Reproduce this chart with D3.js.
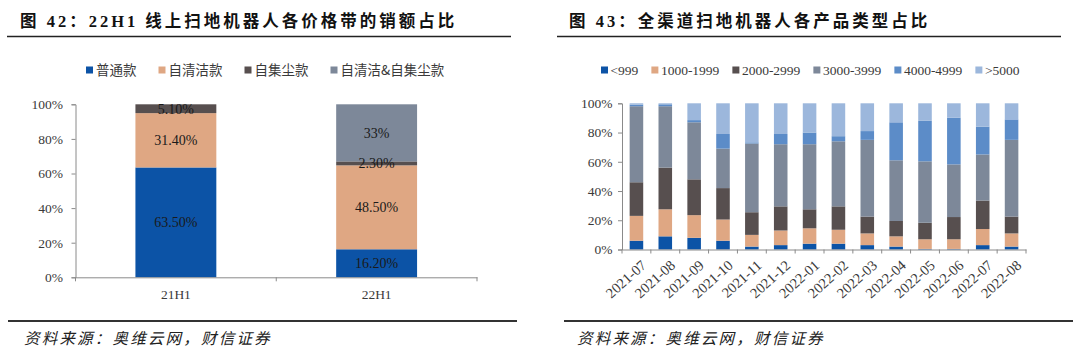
<!DOCTYPE html>
<html><head><meta charset="utf-8">
<script src="https://cdn.jsdelivr.net/npm/d3@7/dist/d3.min.js"></script>
<style>body{margin:0;background:#fff} svg{display:block}</style>
</head><body><svg id="c" width="1080" height="358"></svg>
<script>
// ---------- data ----------
const leftTitle = "图 42：22H1 线上扫地机器人各价格带的销额占比";
const rightTitle = "图 43：全渠道扫地机器人各产品类型占比";
const sourceText = "资料来源：奥维云网，财信证券";

const leftCategories = ["21H1", "22H1"];
const leftSeriesNames = ["普通款", "自清洁款", "自集尘款", "自清洁&自集尘款"];
const leftPutong = [63.5, 16.2];
const leftZiqingjie = [31.4, 48.5];
const leftZijichen = [5.1, 2.3];
const leftBoth = [0, 33];

const yTickValues = [0, 20, 40, 60, 80, 100];

const rightCategories = ["2021-07","2021-08","2021-09","2021-10","2021-11","2021-12","2022-01","2022-02","2022-03","2022-04","2022-05","2022-06","2022-07","2022-08"];
const rightSeriesNames = ["<999", "1000-1999", "2000-2999", "3000-3999", "4000-4999", ">5000"];
const rUnder999   = [6, 9, 8, 6, 2, 3, 4, 4, 3, 2, 0.4, 0.4, 3, 2];
const r1000_1999  = [17, 18.5, 15.5, 14.5, 8, 10, 10.5, 9.5, 8, 7, 6.6, 6.6, 11, 9];
const r2000_2999  = [23, 28.5, 24.5, 21.5, 15.5, 16.5, 13, 16, 11.5, 10.5, 11.3, 15.2, 19.5, 11.5];
const r3000_3999  = [52, 42, 39, 27, 47, 42.5, 44.5, 44.5, 52.5, 41.5, 42, 36, 31.5, 52.5];
const r4000_4999  = [1, 1.3, 1.5, 10, 0.8, 7, 8, 3.5, 6, 26, 27.7, 32, 19, 14];
const rOver5000   = [1, 0.7, 11.5, 21, 26.7, 21, 20, 22.5, 19, 13, 12, 9.8, 16, 11];

// ---------- styles ----------
const leftColors = ["#0c53a6", "#dfa783", "#574f4f", "#7d8899"];
const rightColors = ["#0c53a6", "#dfa783", "#574f4f", "#7d8899", "#5c8cc8", "#9cb7dc"];
const serif = "'Liberation Serif','Times New Roman',serif";
const cjk = "'Liberation Serif','Noto Sans CJK SC',sans-serif";
const axisColor = "#8a8a8a";
const textColor = "#3a3a3a";

const svg = d3.select("#c");

function buildRows(cats, names, arrays) {
  return cats.map((c, i) => {
    const row = {cat: c};
    names.forEach((n, j) => row[n] = arrays[j][i]);
    return row;
  });
}

// ---------- titles, rules, footers ----------
function header(x, text, lineX1, lineX2) {
  svg.append("text").attr("x", x).attr("y", 27)
    .attr("font-family", cjk).attr("font-weight", "bold").attr("font-size", 16.5)
    .attr("letter-spacing", 3).attr("fill", "#111").text(text);
  svg.append("line").attr("x1", lineX1).attr("x2", lineX2).attr("y1", 36.5).attr("y2", 36.5)
    .attr("stroke", "#222").attr("stroke-width", 1.6);
}
function footer(x, lineX1, lineX2) {
  svg.append("line").attr("x1", lineX1).attr("x2", lineX2).attr("y1", 321).attr("y2", 321)
    .attr("stroke", "#333").attr("stroke-width", 2);
  svg.append("text").attr("x", x).attr("y", 344)
    .attr("font-family", "'Noto Sans CJK SC',sans-serif").attr("font-style", "italic")
    .attr("font-size", 15.5).attr("letter-spacing", 2.2).attr("fill", "#222").text(sourceText);
}
header(20, leftTitle, 7, 511);
header(569, rightTitle, 557, 1061);
footer(24, 8, 517);
footer(577, 564, 1073);

// ---------- legend ----------
function legend(names, colors, startX, gap, textGap, fontFamily, fontSize) {
  let x = startX;
  names.forEach((n, i) => {
    svg.append("rect").attr("x", x).attr("y", 66.5).attr("width", 7).attr("height", 7).attr("fill", colors[i]);
    const t = svg.append("text").attr("x", x + 7 + textGap).attr("y", 75)
      .attr("font-family", fontFamily).attr("font-size", fontSize).attr("fill", textColor).text(n);
    x += 7 + textGap + t.node().getComputedTextLength() + gap;
  });
}
legend(leftSeriesNames, leftColors, 86, 22, 3, "'Noto Sans CJK SC',sans-serif", 13.5);
legend(rightSeriesNames, rightColors, 601, 13, 2.5, serif, 13.5);

// ---------- generic stacked chart ----------
function stackedChart(opts) {
  const {rows, names, colors, x0, x1, yTop, yBottom, barFrac, labels, tickPad, xPad} = opts;
  const g = svg.append("g");
  const x = d3.scaleBand().domain(rows.map(d => d.cat)).range([x0, x1]).padding(0);
  const y = d3.scaleLinear().domain([0, 100]).range([yBottom, yTop]);
  const bw = x.bandwidth() * barFrac;
  const series = d3.stack().keys(names)(rows);

  // y axis
  const ya = g.append("g").attr("transform", `translate(${x0},0)`)
    .call(d3.axisLeft(y).tickValues(yTickValues).tickSize(4).tickPadding(tickPad).tickFormat(d => d + "%"));
  ya.selectAll("path,line").attr("stroke", axisColor);
  ya.selectAll("text").attr("font-family", serif).attr("font-size", 13.5).attr("fill", textColor);

  // bars
  series.forEach((s, i) => {
    g.append("g").selectAll("rect").data(s).join("rect")
      .attr("x", d => x(d.data.cat) + (x.bandwidth() - bw) / 2)
      .attr("width", bw)
      .attr("y", d => y(d[1]))
      .attr("height", d => Math.max(0, y(d[0]) - y(d[1])))
      .attr("fill", colors[i]);
  });

  // x axis
  const xa = g.append("g").attr("transform", `translate(0,${yBottom})`)
    .call(d3.axisBottom(x).tickSize(0).tickPadding(xPad));
  xa.select("path").attr("stroke", axisColor);
  xa.selectAll("text").attr("font-family", serif).attr("font-size", 13.5).attr("fill", textColor);
  const bounds = x.domain().map(c => x(c)).concat([x(x.domain()[x.domain().length - 1]) + x.bandwidth()]);
  g.append("g").selectAll("line").data(bounds).join("line")
    .attr("x1", d => d).attr("x2", d => d).attr("y1", yBottom).attr("y2", yBottom + 4)
    .attr("stroke", axisColor);

  if (labels) {
    series.forEach((s) => {
      g.append("g").selectAll("text").data(s.filter(d => d[1] - d[0] > 0)).join("text")
        .attr("x", d => x(d.data.cat) + x.bandwidth() / 2)
        .attr("y", d => y((d[0] + d[1]) / 2))
        .attr("dy", "0.35em")
        .attr("text-anchor", "middle")
        .attr("font-family", serif).attr("font-size", 14).attr("fill", "#1a1a1a")
        .text(d => {
          const val = +(d[1] - d[0]).toFixed(2);
          return Number.isInteger(val) ? val + "%" : val.toFixed(2) + "%";
        });
    });
  }
  return {x, y, xa, bw};
}

// left chart
stackedChart({
  rows: buildRows(leftCategories, leftSeriesNames, [leftPutong, leftZiqingjie, leftZijichen, leftBoth]),
  names: leftSeriesNames, colors: leftColors,
  x0: 75.5, x1: 477, yTop: 104.3, yBottom: 277.3, barFrac: 0.403, labels: true, tickPad: 8.5, xPad: 12.4
});

// right chart
const rc = stackedChart({
  rows: buildRows(rightCategories, rightSeriesNames, [rUnder999, r1000_1999, r2000_2999, r3000_3999, r4000_4999, rOver5000]),
  names: rightSeriesNames, colors: rightColors,
  x0: 622, x1: 1026, yTop: 103.3, yBottom: 249.5, barFrac: 0.47, labels: false, tickPad: 5.5, xPad: 0
});
rc.xa.selectAll("text")
  .attr("x", 0).attr("y", 0)
  .attr("text-anchor", "end")
  .attr("dy", "0.7em")
  .attr("font-size", 14.5)
  .attr("transform", "translate(4,9.5) rotate(-42)");
</script></body></html>
